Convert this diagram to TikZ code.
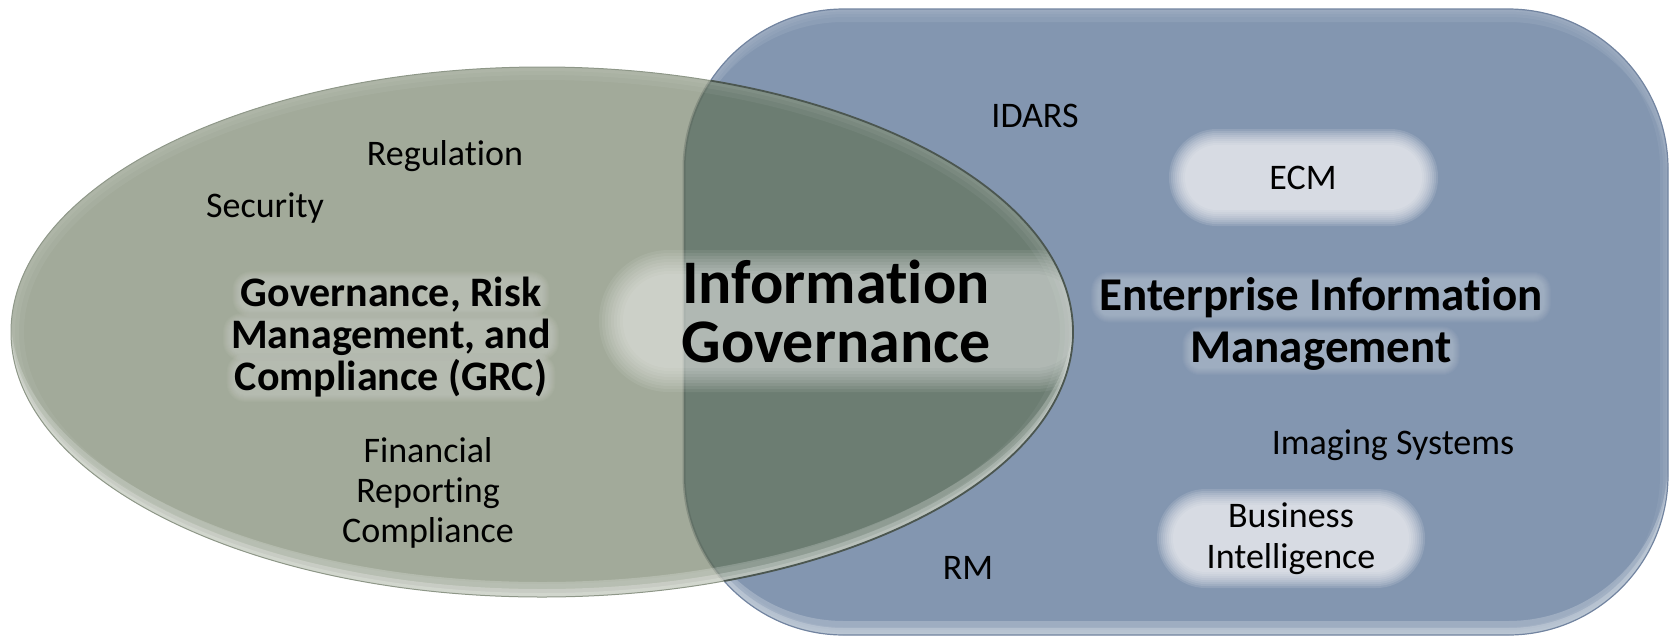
\documentclass[tikz,border=0pt]{standalone}
\usepackage{fontspec}
\setmainfont{Carlito}[Ligatures={NoCommon,NoContextual}]
\definecolor{rectfill}{HTML}{8396B0}
\definecolor{rectline}{HTML}{7284A0}
\definecolor{ellfill}{HTML}{A2AA9A}
\definecolor{ellline}{HTML}{8E9788}
\definecolor{overfill}{HTML}{6C7D72}
\definecolor{overline}{HTML}{4B5650}
\pgfdeclarelayer{bg}
\pgfdeclarelayer{glow}
\pgfsetlayers{bg,glow,main}
% soft (blurred) pill: x1 y1 x2 y2 radius opacity
\newcommand{\softpill}[6]{%
  \foreach \e in {8,6,4,2,0,-2,-4,-6,-8} {%
    \pgfmathsetmacro\xa{#1-(\e)}\pgfmathsetmacro\ya{#2-(\e)}%
    \pgfmathsetmacro\xb{#3+(\e)}\pgfmathsetmacro\yb{#4+(\e)}%
    \pgfmathsetmacro\rr{max(#5+(\e),2)}%
    \fill[white, opacity=#6, rounded corners=\rr pt] (\xa,\ya) rectangle (\xb,\yb);}}
% text line with a soft light halo behind it
\newcommand{\haloline}[4]{%
  \node[#3] (#1) at #2 {#4};
  \begin{pgfonlayer}{glow}
  \foreach \e in {8,7,...,1} {%
    \fill[white, opacity=.035, rounded corners={10pt+\e pt}]
      ([xshift=-\e pt, yshift=-\e pt+3pt]#1.south west) rectangle ([xshift=\e pt, yshift=\e pt-3pt]#1.north east);}
  \end{pgfonlayer}}
\begin{document}
\begin{tikzpicture}[x=1pt,y=-1pt,
  lbl/.style={font=\fontsize{36}{40}\selectfont, text=black, inner sep=0pt, anchor=base},
  grcf/.style={font=\bfseries\fontsize{42}{46}\selectfont, text=black, inner sep=0pt, anchor=base},
  eimf/.style={font=\bfseries\fontsize{47}{52}\selectfont, text=black, inner sep=0pt, anchor=base},
  igf/.style={font=\bfseries\fontsize{62}{64}\selectfont, text=black, inner sep=0pt, anchor=base},
  soft/.style={white, opacity=#1}]
\useasboundingbox (0,0) rectangle (1675,638);

\begin{pgfonlayer}{bg}
% ---------- Enterprise Information Management rounded rectangle
\fill[rectfill, rounded corners=160pt] (684,9) rectangle (1668,635);
\begin{scope}
  \clip[rounded corners=160pt] (684,9) rectangle (1668,635);
  \fill[soft=.22, even odd rule, rounded corners=160pt] (684,9) rectangle (1668,635) (684,-5) rectangle (1668,621);
  \fill[soft=.2, even odd rule, rounded corners=160pt] (684,9) rectangle (1668,635) (684,2) rectangle (1668,628);
  \fill[soft=.08, even odd rule, rounded corners=160pt] (684,9) rectangle (1668,635) (684,22) rectangle (1668,648);
  \foreach \w in {16,10,5} {\draw[soft=.05, line width=\w pt, rounded corners=160pt] (684,9) rectangle (1668,635);}
\end{scope}
\draw[rectline, line width=1.2pt, rounded corners=160pt] (684,9) rectangle (1668,635);

% ---------- GRC ellipse
\fill[ellfill] (542,332) ellipse [x radius=531pt, y radius=265pt];
\begin{scope}
  \clip[rounded corners=160pt] (684,9) rectangle (1668,635);
  \fill[overfill] (542,332) ellipse [x radius=531pt, y radius=265pt];
\end{scope}
\begin{scope}
  \clip (542,332) ellipse [x radius=531pt, y radius=265pt];
  \draw[overline, opacity=.3, line width=3pt, rounded corners=160pt] (684,9) rectangle (1668,635);
  \fill[soft=.2, even odd rule] (542,332) ellipse [x radius=531pt, y radius=265pt] (542,317) ellipse [x radius=531pt, y radius=265pt];
  \fill[soft=.2, even odd rule] (542,332) ellipse [x radius=531pt, y radius=265pt] (542,324) ellipse [x radius=531pt, y radius=265pt];
  \fill[soft=.15, even odd rule] (542,332) ellipse [x radius=531pt, y radius=265pt] (542,328) ellipse [x radius=531pt, y radius=265pt];
  \foreach \w in {26,16,8} {\draw[soft=.05, line width=\w pt] (542,332) ellipse [x radius=531pt, y radius=265pt];}
  % soft glow behind Information Governance
  \foreach \e in {12,9,6,3,0,-3,-6,-9,-12} {%
    \pgfmathsetmacro\xa{611-(\e)}\pgfmathsetmacro\ya{262-(\e)}%
    \pgfmathsetmacro\xb{1093+(\e)}\pgfmathsetmacro\yb{380+(\e)}%
    \pgfmathsetmacro\rr{58+(\e)}%
    \fill[white, opacity=.07, rounded corners=\rr pt] (\xa,\ya) rectangle (\xb,\yb);}
\end{scope}
\draw[ellline, line width=1pt] (542,332) ellipse [x radius=531pt, y radius=265pt];
\begin{scope}
  \clip[rounded corners=160pt] (684,9) rectangle (1668,635);
  \draw[overline, line width=1.8pt] (542,332) ellipse [x radius=531pt, y radius=265pt];
\end{scope}

% ---------- soft pills
\softpill{1177}{137}{1430}{218}{40}{.12}
\softpill{1165}{497}{1417}{580}{41}{.12}
\end{pgfonlayer}

% ---------- texts
\node[lbl] (regulation) at (445,165) {Regulation};
\node[lbl] (security) at (265,217) {Security};
\haloline{grcA}{(391,306)}{grcf}{Governance, Risk}
\haloline{grcB}{(391,348)}{grcf}{Management, and}
\haloline{grcC}{(391,390)}{grcf}{Compliance (GRC)}
\node[lbl] (finA) at (428,462) {Financial};
\node[lbl] (finB) at (428,502) {Reporting};
\node[lbl] (finC) at (428,542) {Compliance};

\node[igf] (igA) at (836,303) {Information};
\node[igf] (igB) at (836,362) {Governance};

\node[lbl] (idars) at (1035,127) {IDARS};
\node[lbl] (ecm) at (1303,189) {ECM};
\haloline{eimA}{(1321,310)}{eimf}{Enterprise Information}
\haloline{eimB}{(1321,362)}{eimf}{Management}
\node[lbl] (imaging) at (1393,454) {Imaging Systems};
\node[lbl] (biA) at (1291,527) {Business};
\node[lbl] (biB) at (1291,568) {Intelligence};
\node[lbl] (rm) at (968,579) {RM};
\end{tikzpicture}
\end{document}
